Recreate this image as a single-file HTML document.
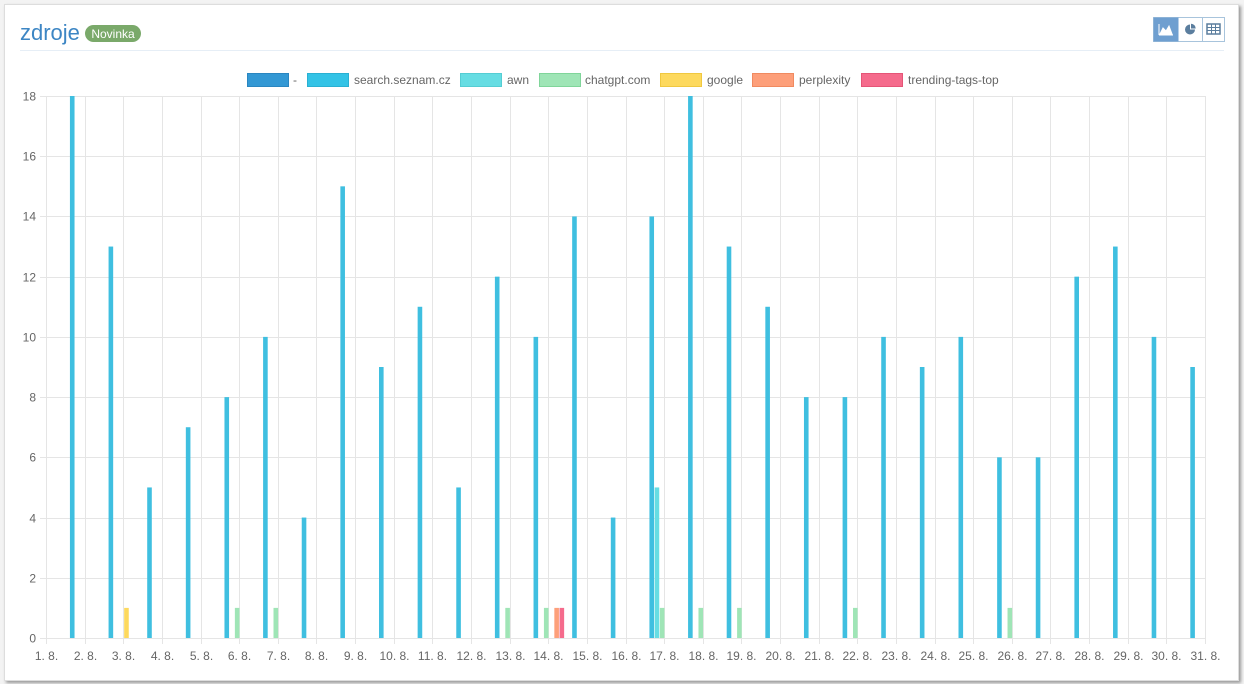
<!DOCTYPE html>
<html><head><meta charset="utf-8"><style>
body{margin:0;background:#f3f3f3;width:1244px;height:684px;overflow:hidden;font-family:"Liberation Sans",sans-serif}
.card{position:absolute;left:4px;top:4px;width:1233px;height:675px;background:#fff;border:1px solid #ddd;box-shadow:2px 2px 3px #999}
</style></head><body>
<div class="card"></div>
<svg width="1244" height="684" style="position:absolute;left:0;top:0" font-family="Liberation Sans, sans-serif">
<text x="20" y="40" font-size="22" fill="#3d86c4">zdroje</text>
<rect x="85" y="25" width="56" height="17" rx="8.5" fill="#7aa96a"/>
<text x="113" y="38" font-size="12" fill="#fff" text-anchor="middle">Novinka</text>
<line x1="20" y1="50.5" x2="1224" y2="50.5" stroke="#e6eef6"/>
<rect x="1153.5" y="17.5" width="71" height="24" fill="#fff" stroke="#a8c4dc"/>
<rect x="1153.5" y="17.5" width="25" height="24" fill="#6f9fd0"/>
<line x1="1202.5" y1="17.5" x2="1202.5" y2="41.5" stroke="#a8c4dc"/>
<path d="M1159 35 V24 M1159 35 H1173 M1160 34 L1163 28 L1166 31 L1169 26 L1172 34Z" stroke="#fff" fill="#fff" stroke-width="1"/>
<path d="M1190 29.5 L1190 24.5 A5 5 0 1 0 1195 29.5 Z" fill="#5b7e9e"/>
<path d="M1191 28.5 L1191 23.8 A4.7 4.7 0 0 1 1195.7 28.5 Z" fill="#5b7e9e"/>
<rect x="1207" y="24" width="13" height="10" fill="none" stroke="#5b7e9e" stroke-width="1.5"/>
<path d="M1207 27.5H1220M1207 30.5H1220M1211.5 24V34M1215.5 24V34" stroke="#5b7e9e"/>
<g font-size="12" fill="#666">
<rect x="247.5" y="73.5" width="41" height="13" fill="#3398d4" stroke="#2a86c0"/><text x="293" y="84">-</text>
<rect x="307.5" y="73.5" width="41" height="13" fill="#33c3e6" stroke="#2ab0d2"/><text x="354" y="84">search.seznam.cz</text>
<rect x="460.5" y="73.5" width="41" height="13" fill="#66dde3" stroke="#55cdd3"/><text x="507" y="84">awn</text>
<rect x="539.5" y="73.5" width="41" height="13" fill="#9fe5b6" stroke="#80d59a"/><text x="585" y="84">chatgpt.com</text>
<rect x="660.5" y="73.5" width="41" height="13" fill="#fdd95e" stroke="#f0c840"/><text x="707" y="84">google</text>
<rect x="752.5" y="73.5" width="41" height="13" fill="#fd9f7a" stroke="#f08a60"/><text x="799" y="84">perplexity</text>
<rect x="861.5" y="73.5" width="41" height="13" fill="#f56b8c" stroke="#e55577"/><text x="908" y="84">trending-tags-top</text>
</g>
<g id="grid" stroke="#e5e5e5" stroke-width="1"></g>
<g id="bars"></g>
<g id="lbl" font-size="12" fill="#666"></g>
</svg>
<script>
var ns="http://www.w3.org/2000/svg";
function el(p,t,a,txt){var e=document.createElementNS(ns,t);for(var k in a)e.setAttribute(k,a[k]);if(txt!=null)e.textContent=txt;document.getElementById(p).appendChild(e);}
var L=46,R=1205,T=96,B=638,step=(R-L)/30,u=(B-T)/18;
for(var i=0;i<=9;i++){var y=Math.round(B-i*2*u)+0.5;el("grid","line",{x1:L-6,x2:R,y1:y,y2:y});el("lbl","text",{x:36,y:y+4,"text-anchor":"end"},String(i*2));}
for(var d=1;d<=31;d++){var x=Math.round(L+(d-1)*step)+0.5;el("grid","line",{x1:x,x2:x,y1:T,y2:B+6});el("lbl","text",{x:x,y:660,"text-anchor":"middle"},d+". 8.");}
var s=[18,13,5,7,8,10,4,15,9,11,5,12,10,14,4,14,18,13,11,8,8,10,9,10,6,6,12,13,10,9];
var cols=["#3398d4","#3fbfe0","#66dde3","#9fe5b6","#fdd95e","#fd9f7a","#f56b8c"];
function bar(day,k,v){var g=L+(day-1)*step;var c=g-2+(k-3)*5.2;el("bars","rect",{x:c-2.3,y:B-v*u,width:4.6,height:v*u,fill:cols[k]});}
for(var i=0;i<30;i++)bar(i+2,1,s[i]);
bar(3,4,1);bar(17,2,5);
[6,7,13,14,17,18,19,22,26].forEach(function(d){bar(d,3,1);});
bar(14,5,1);bar(14,6,1);
</script>
</body></html>
